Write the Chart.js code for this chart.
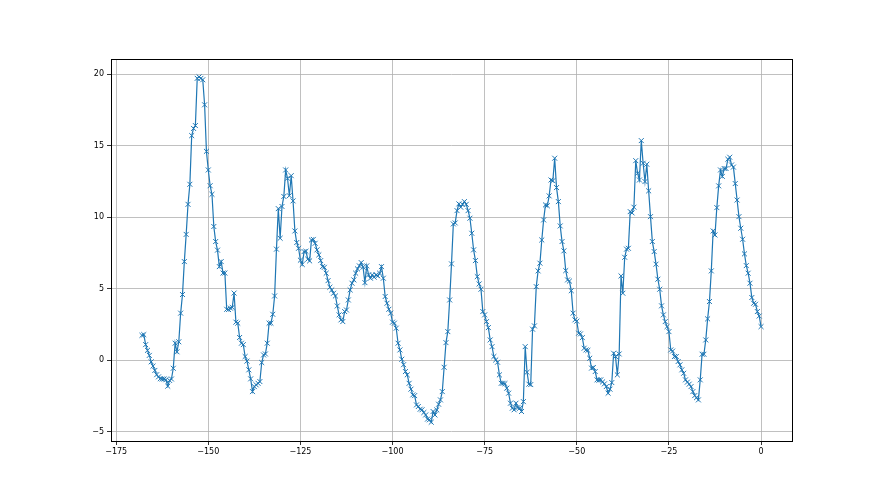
<!DOCTYPE html>
<html lang="en">
<head>
<meta charset="UTF-8">
<title>Series</title>
<script src="https://cdn.jsdelivr.net/npm/chart.js"></script>
<style>
  html, body { margin: 0; padding: 0; background: #fff; }
  #wrap { width: 880px; height: 495px; }
</style>
</head>
<body>
<div id="wrap"><canvas id="chart"></canvas></div>
<script>
// samples every half unit, from -168 to 0
const startX = -168;
const stepX = 0.5;

const values = [
  1.75, 1.8, 1.1, 0.7, 0.35, -0.1, -0.4, -0.7, -1.0, -1.15, -1.28, -1.3, -1.3, -1.35, -1.8, -1.4, -1.3, -0.55,
  1.2, 0.6, 1.3, 3.3, 4.6, 6.9, 8.8, 10.9, 12.3, 15.7, 16.2, 16.4, 19.7, 19.8, 19.7, 19.6,
  17.85, 14.6, 13.3, 12.2, 11.6, 9.35, 8.3, 7.7, 6.55, 6.9, 6.1, 6.1, 3.57, 3.55, 3.65, 3.7, 4.7, 2.67, 2.6, 1.6,
  1.2, 1.1, 0.27, -0.05, -0.66, -1.29, -2.18, -1.83, -1.71, -1.6, -1.48, -0.15, 0.38, 0.45, 1.2, 2.6, 2.6, 3.22,
  4.5, 7.77, 10.6, 8.53, 10.75, 11.45, 13.3, 12.72, 11.5, 12.9, 11.14, 9.04, 8.23, 7.83,
  7.0, 6.7, 7.6, 7.62, 7.07, 6.95, 8.41, 8.45, 8.18, 7.72, 7.37, 6.97, 6.55, 6.5, 6.09, 5.57, 5.11, 4.92, 4.69,
  4.5, 3.8, 3.18, 2.83, 2.71, 3.41, 3.52, 4.22, 4.92, 5.39, 5.62, 6.09, 6.39, 6.6, 6.83, 6.51, 5.43, 6.6, 5.97,
  5.74, 5.97, 5.81, 5.97, 5.9, 6.09, 6.55, 5.74, 4.46, 3.99, 3.57, 3.3, 2.67, 2.6,
  2.25, 1.2, 0.73, 0.08, -0.3, -0.78, -1.01, -1.6, -2.01, -2.41, -2.46, -3.11, -3.22, -3.41, -3.45, -3.64, -3.81,
  -4.1, -4.15, -4.32, -3.57, -3.81, -3.46, -3.06, -2.76, -2.18, -0.48, 1.24, 2.01, 4.22, 6.74, 9.53, 9.6, 10.46,
  10.93, 10.7, 10.9, 11.09, 10.9, 10.46, 9.93, 8.88, 7.72, 6.97, 5.85, 5.34, 4.97, 3.41, 3.18, 2.71,
  2.29, 1.43, 0.96, 0.27, 0.03, -0.13, -1.01, -1.6, -1.6, -1.62, -1.94, -2.29, -2.99, -3.34, -3.45, -2.99, -3.3,
  -3.34, -3.57, -2.88, 0.96, -0.83, -1.66, -1.69, 2.18, 2.41, 5.15, 6.25, 6.79, 8.41, 9.81, 10.86, 10.8, 11.49,
  12.6, 12.55, 14.12, 12.07, 11.09, 9.39, 8.3, 7.65, 6.27, 5.62, 5.54, 4.87, 3.3, 2.83, 2.74, 1.9,
  1.85, 1.59, 0.85, 0.73, 0.7, 0.15, -0.54, -0.5, -0.78, -1.36, -1.38, -1.36, -1.5, -1.64, -1.83, -2.29, -2.01,
  -1.55, 0.5, 0.27, -1.01, 0.45, 5.9, 4.69, 7.2, 7.77, 7.83, 10.39, 10.3, 10.7, 13.95, 13.07, 12.6, 15.35, 13.77,
  12.49, 13.7, 11.84, 10.04, 8.3, 7.6, 6.72, 5.67, 4.97, 3.81, 3.18, 2.71, 2.36, 2.01, 0.73, 0.65,
  0.27, 0.27, -0.08, -0.31, -0.66, -0.9, -1.36, -1.52, -1.66, -1.83, -2.18, -2.46, -2.6, -2.76, -1.36, 0.43, 0.43,
  1.43, 2.9, 4.11, 6.25, 9.04, 8.76, 10.67, 12.19, 13.3, 12.85, 13.4, 13.4, 14.05, 14.19, 13.65, 13.5, 12.35,
  11.2, 10.04, 9.23, 8.46, 7.44, 6.62, 6.09, 5.39, 4.39, 3.99, 3.92, 3.41, 3.1, 2.36
];

const xTicks = [-175, -150, -125, -100, -75, -50, -25, 0];
const yTicks = [-5, 0, 5, 10, 15, 20];

const points = values.map((v, i) => ({ x: startX + i * stepX, y: v }));

// tick labels use a real minus sign
const fmt = v => String(v).replace('-', '\u2212');

// black box around the plot area
const frame = {
  id: 'frame',
  afterDraw(chart) {
    const { ctx, chartArea: a } = chart;
    ctx.save();
    ctx.strokeStyle = '#000';
    ctx.lineWidth = 1;
    ctx.strokeRect(Math.round(a.left) + 0.5, Math.round(a.top) + 0.5,
      Math.round(a.right - a.left), Math.round(a.bottom - a.top));
    ctx.restore();
  }
};

Chart.defaults.font.family = 'DejaVu Sans';
Chart.defaults.font.size = 8;
Chart.defaults.color = '#000';

new Chart(document.getElementById('chart'), {
  type: 'scatter',
  data: {
    datasets: [{
      data: points,
      showLine: true,
      borderColor: '#1f77b4',
      backgroundColor: '#1f77b4',
      borderWidth: 1.2,
      pointStyle: 'crossRot',
      pointRadius: 3.5,
      pointBorderWidth: 1,
      pointHoverRadius: 3.5
    }]
  },
  options: {
    responsive: true,
    maintainAspectRatio: false,
    animation: false,
    layout: { padding: { left: 0, right: 88, top: 59, bottom: 0 } },
    plugins: { legend: { display: false }, tooltip: { enabled: false } },
    scales: {
      x: {
        type: 'linear',
        min: -176.4,
        max: 8.4,
        afterFit: s => { s.height = 54; },
        afterBuildTicks: s => { s.ticks = xTicks.map(v => ({ value: v })); },
        ticks: { autoSkip: false, maxRotation: 0, padding: 2, callback: fmt },
        grid: { color: '#b0b0b0', lineWidth: 0.8, tickColor: '#000', tickLength: 4 },
        border: { display: false }
      },
      y: {
        min: -5.63,
        max: 21.05,
        afterFit: s => { s.width = 111; },
        afterBuildTicks: s => { s.ticks = yTicks.map(v => ({ value: v })); },
        ticks: { padding: 3, callback: fmt },
        grid: { color: '#b0b0b0', lineWidth: 0.8, tickColor: '#000', tickLength: 4 },
        border: { display: false }
      }
    }
  },
  plugins: [frame]
});
</script>
</body>
</html>
